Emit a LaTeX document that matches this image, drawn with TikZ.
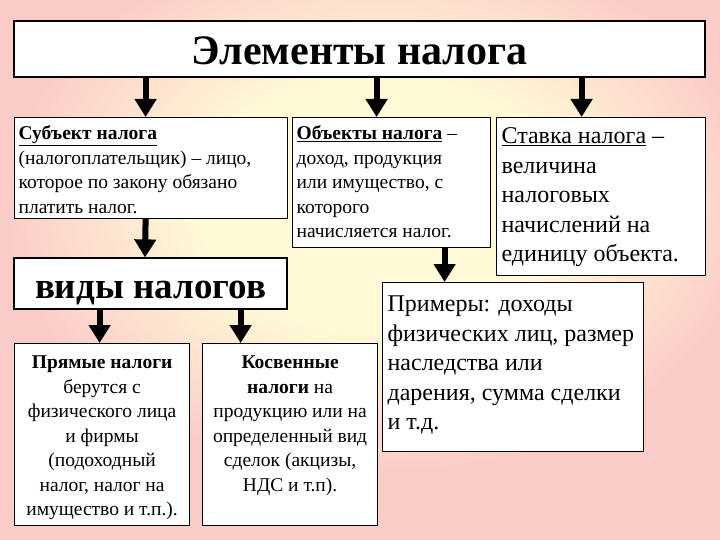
\documentclass[tikz,border=0pt]{standalone}
\usepackage{fontspec}
\setmainfont{Liberation Serif}
\usetikzlibrary{arrows.meta, positioning}
\definecolor{NLpink}{HTML}{FBCBC7}
\definecolor{NLcream}{HTML}{FFF9D6}
\definecolor{NLink}{HTML}{000000}
\pgfdeclareradialshading{nlglow}{\pgfpoint{0bp}{0bp}}{color(0bp)=(NLcream); color(12bp)=(NLcream); color(25bp)=(NLpink); color(50bp)=(NLpink)}
\tikzset{
  nlbox/.style={
    rectangle, draw=NLink, line width=1.2pt, fill=white, text=NLink,
    anchor=north west, align=flush left, inner xsep=4pt, inner ysep=3pt,
    text height=19pt, font=\fontsize{19.5}{24.5}\selectfont},
  nlbig/.style={nlbox, inner xsep=5pt, font=\fontsize{24}{29.5}\selectfont},
  nlmid/.style={nlbox, align=flush center, inner xsep=3pt},
  nlhead/.style={
    rectangle, draw=NLink, line width=1.2pt, fill=white, text=NLink,
    font=\fontsize{42}{48}\selectfont\bfseries},
  nlarr/.style={-{Triangle[length=18pt,width=21pt]}, line width=6pt, draw=NLink},
}
\begin{document}
\begin{tikzpicture}[x=1pt, y=-1pt]
  \useasboundingbox (0,0) rectangle (720,540);
  \fill[NLpink] (0,0) rectangle (720,540);
  \begin{scope}
    \clip (0,0) rectangle (720,540);
    \shade[shading=nlglow] (0,-65) rectangle (760,475);
  \end{scope}
  % top row
  \node[nlhead, minimum width=691pt, minimum height=56pt, text height=32pt, text depth=0pt] (head) at (359.5,49) {Элементы налога};
  \node[nlbox, text width=265pt, text depth=76pt] (subj) at (14,117)
    {\textbf{\underline{Субъект налога}}\\(налогоплательщик) – лицо,\\которое по закону обязано\\платить налог.};
  \node[nlbox, text width=190pt, text depth=105pt] (obj) at (292,117)
    {\textbf{\underline{Объекты налога}} –\\доход, продукция\\или имущество, с\\которого\\начисляется налог.};
  \node[nlbig, text width=199pt, text height=23pt, text depth=129pt] (rate) at (496,117)
    {\underline{Ставка налога} –\\величина\\налоговых\\начислений на\\единицу объекта.};
  % second row
  \node[nlhead, font=\fontsize{37}{42}\selectfont\bfseries, minimum width=273pt, minimum height=51pt, text height=29pt, text depth=0pt] (kinds) at (150.5,283.5) {виды налогов};
  \node[nlbig, text width=251pt, text height=26pt, text depth=137pt] (ex) at (382,282)
    {Примеры: доходы\\физических лиц, размер\\наследства или\\дарения, сумма сделки\\и т.д.};
  \node[nlmid, text width=169pt, text height=22pt, text depth=154pt] (direct) at (14,343)
    {\textbf{Прямые налоги}\\берутся с\\физического лица\\и фирмы\\(подоходный\\налог, налог на\\имущество и т.п.).};
  \node[nlmid, text width=169pt, text height=22pt, text depth=154pt] (indirect) at (202,343)
    {\textbf{Косвенные}\\\textbf{налоги} на\\продукцию или на\\определенный вид\\сделок (акцизы,\\НДС и т.п).};
  \draw[nlarr] ([xshift=-5.5pt]head.south -| subj.north) -- ([xshift=-5.5pt]subj.north);
  \draw[nlarr] ([xshift=-15pt]head.south -| obj.north) -- ([xshift=-15pt]obj.north);
  \draw[nlarr] ([xshift=-19.5pt]head.south -| rate.north) -- ([xshift=-19.5pt]rate.north);
  \draw[nlarr] ([xshift=-5.5pt]subj.south) -- ([xshift=-5.5pt]kinds.north);
  \draw[nlarr] ([xshift=53pt]obj.south) -- ([xshift=53pt]obj.south |- ex.north);
  \draw[nlarr] ([xshift=-2.5pt]kinds.south -| direct.north) -- ([xshift=-2.5pt]direct.north);
  \draw[nlarr] ([xshift=-49.5pt]kinds.south -| indirect.north) -- ([xshift=-49.5pt]indirect.north);
\end{tikzpicture}
\end{document}
